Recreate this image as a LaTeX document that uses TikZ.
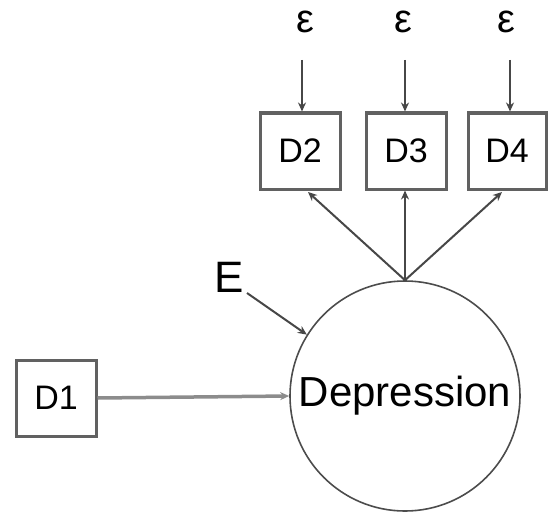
\documentclass[tikz,border=0pt]{standalone}
\usepackage{fontspec}
\setmainfont{Liberation Sans}
\usetikzlibrary{arrows.meta}
\begin{document}
\begin{tikzpicture}[x=1pt,y=-1pt,
  obs/.style={draw=black!62,line width=3pt,minimum width=80pt,minimum height=76pt,inner sep=0pt,font=\fontsize{34}{36}\selectfont},
  lat/.style={circle,draw=black!70,line width=1.6pt,minimum size=230pt,inner sep=0pt,font=\fontsize{42}{44}\selectfont},
  lbl/.style={inner sep=0pt},
  arr/.style={draw=black!72,line width=2pt,-{Stealth[length=9pt,width=8pt]}}
]
\useasboundingbox (0,0) rectangle (548,516);
\node[obs] (d1) at (56,398) {D1};
\node[obs] (d2) at (300,151) {D2};
\node[obs] (d3) at (406,151) {D3};
\node[obs,minimum width=78pt] (d4) at (507,151) {D4};
\node[lat] (dep) at (405,396) {Depression};
\node[lbl,font=\fontsize{40}{42}\selectfont] (e2) at (305,22) {ε};
\node[lbl,font=\fontsize{40}{42}\selectfont] (e3) at (403,22) {ε};
\node[lbl,font=\fontsize{40}{42}\selectfont] (e4) at (506,22) {ε};
\node[lbl,font=\fontsize{44}{46}\selectfont] (E) at (229,277) {E};
\coordinate (t2) at (302,60);
\coordinate (t3) at (405,60);
\coordinate (t4) at (510,60);
\coordinate (eS) at (247,293);
\draw[arr] (t2) -- (t2 |- d2.north);
\draw[arr] (t3) -- (t3 |- d3.north);
\draw[arr] (t4) -- (t4 |- d4.north);
\draw[arr] (dep.north) -- (308,192);
\draw[arr] (dep.north) -- (dep.north |- d3.south);
\draw[arr] (dep.north) -- (502,192);
\draw[arr] (eS) -- (dep.148);
\draw[arr,draw=black!45,line width=3.5pt] (d1.east) -- (dep.west);
\end{tikzpicture}
\end{document}
